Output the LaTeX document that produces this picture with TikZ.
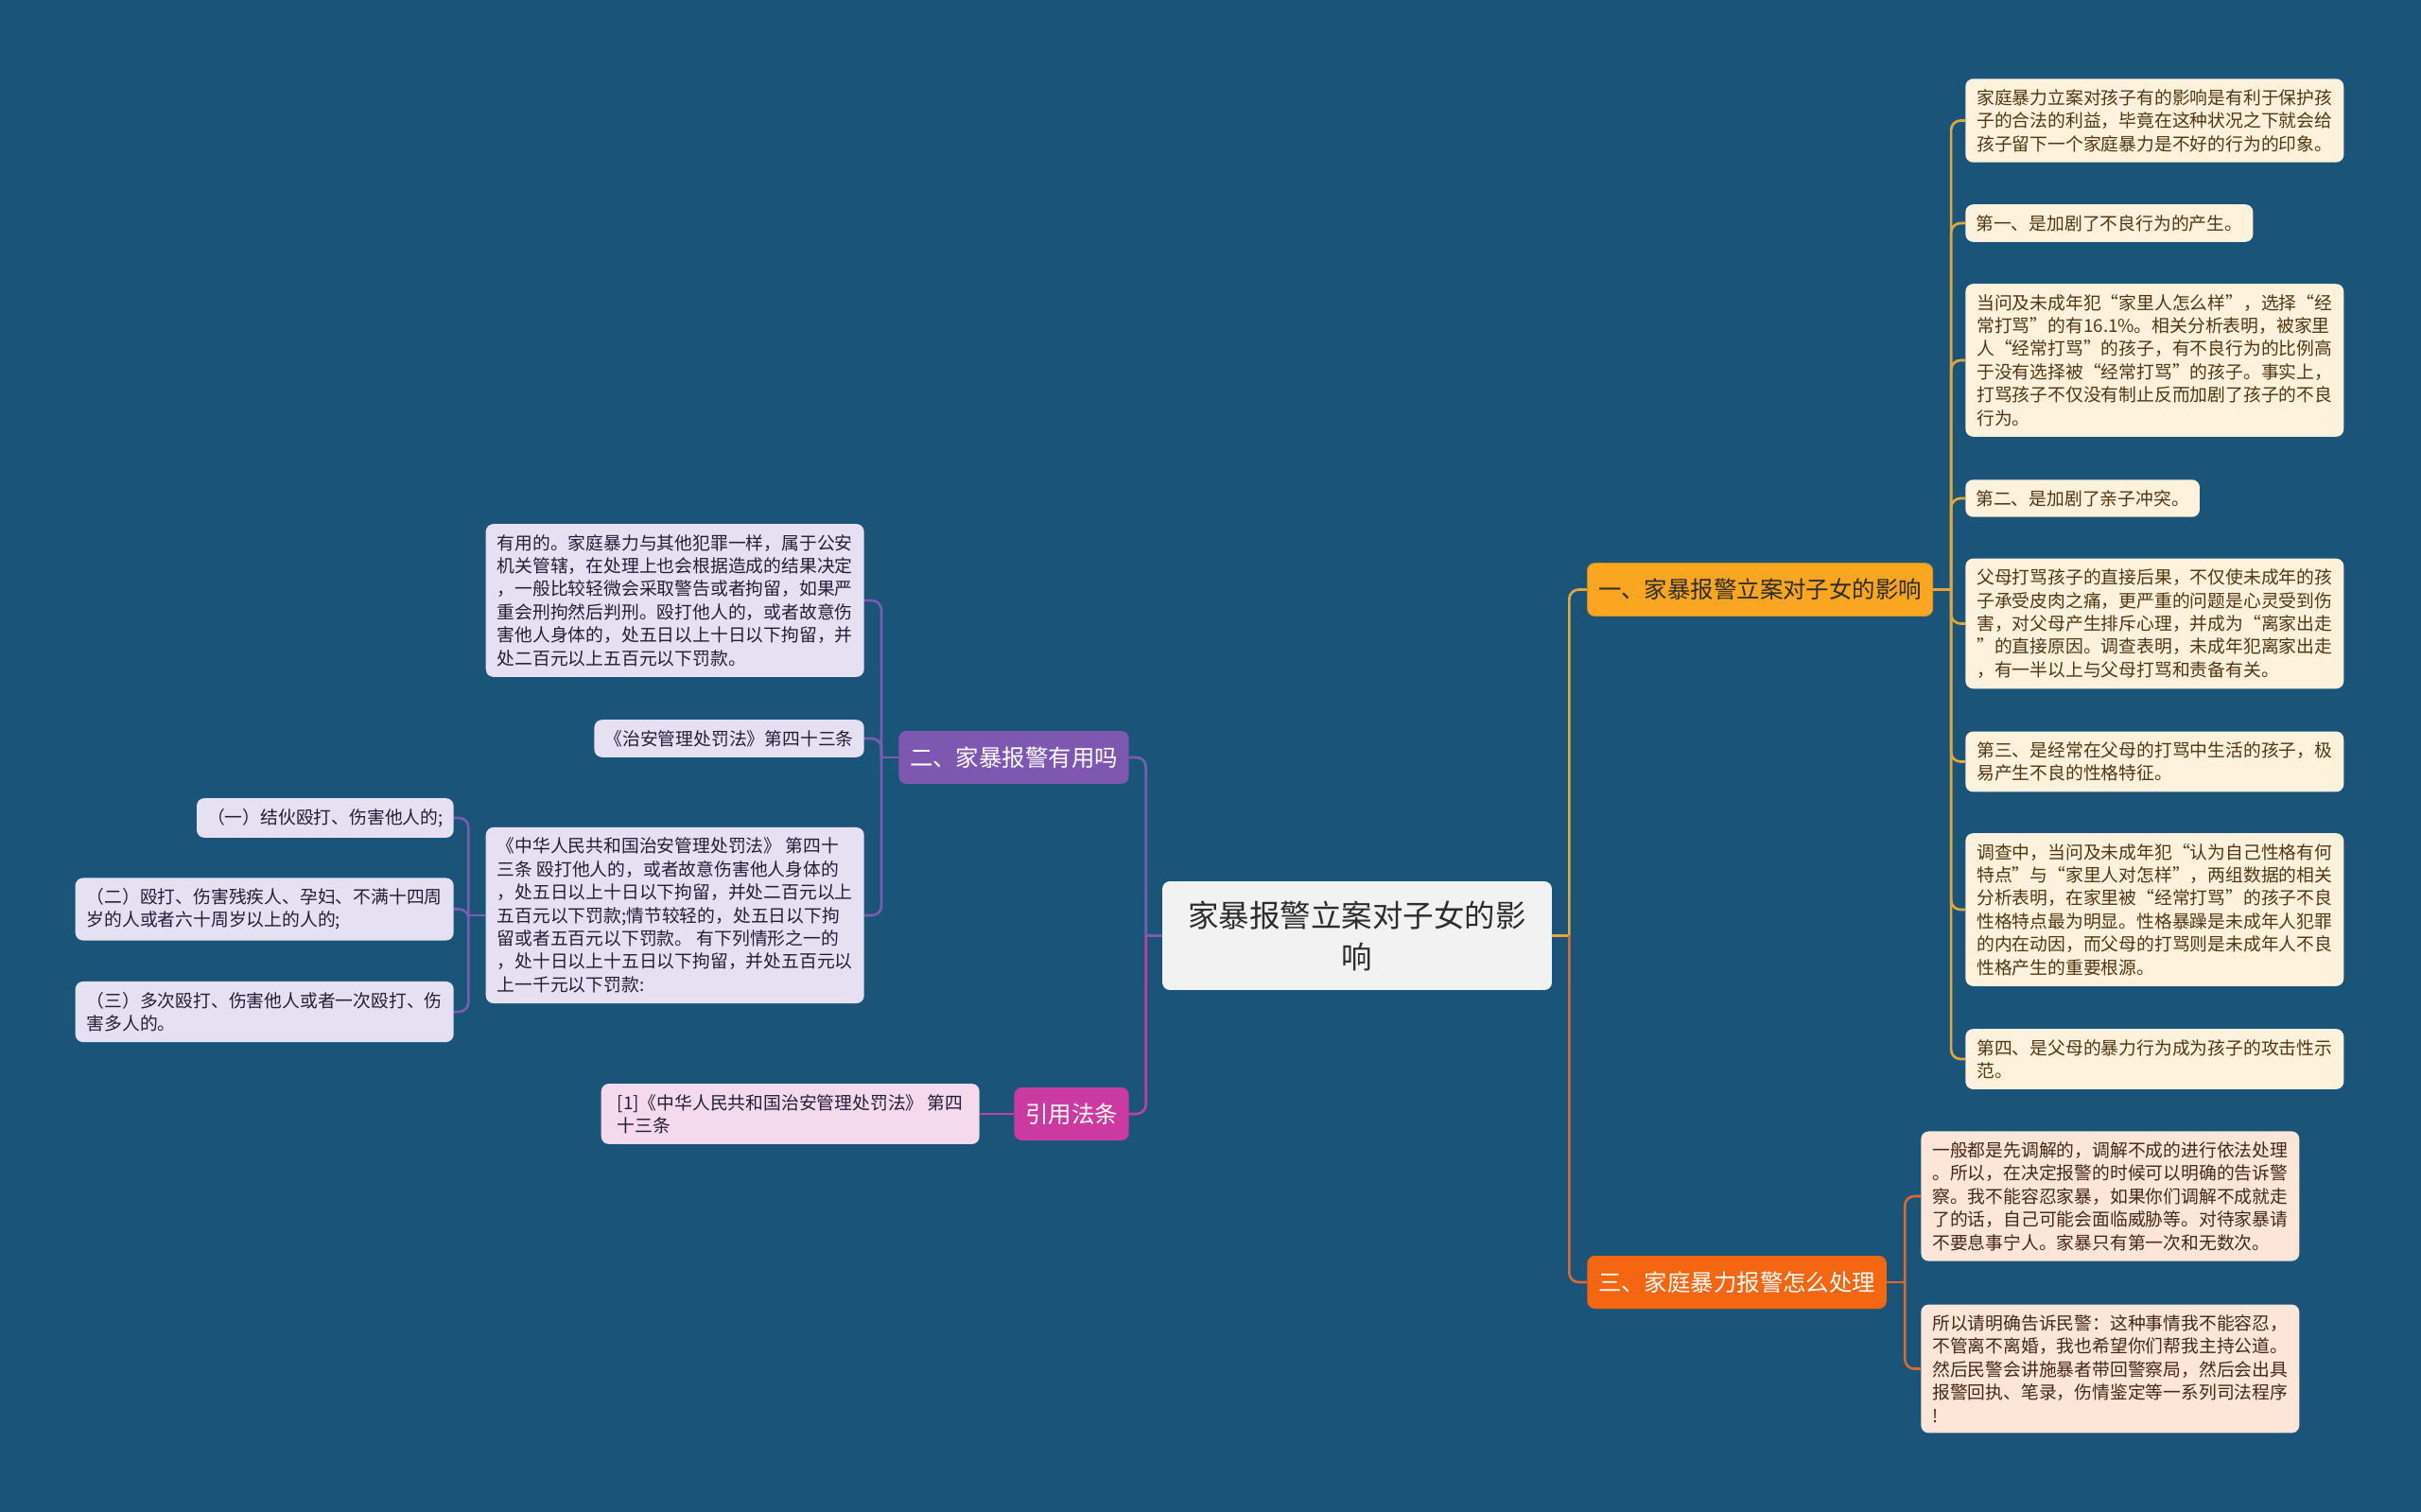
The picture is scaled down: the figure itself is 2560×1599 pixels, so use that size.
\documentclass[tikz,border=0pt]{standalone}
\usepackage{fontspec}
\setmainfont{Noto Sans CJK SC}
\definecolor{bgblue}{RGB}{27,84,121}
\definecolor{rootgray}{RGB}{242,242,242}
\definecolor{inkdark}{RGB}{45,45,45}
\definecolor{effectfill}{RGB}{250,166,33}
\definecolor{effectleaf}{RGB}{255,242,220}
\definecolor{effectink}{RGB}{80,55,20}
\definecolor{effectline}{RGB}{226,167,58}
\definecolor{usefulfill}{RGB}{126,88,176}
\definecolor{usefulleaf}{RGB}{230,225,242}
\definecolor{usefulink}{RGB}{35,30,55}
\definecolor{usefulline}{RGB}{122,92,176}
\definecolor{handlefill}{RGB}{246,102,16}
\definecolor{handleleaf}{RGB}{253,229,216}
\definecolor{handleink}{RGB}{70,40,25}
\definecolor{handleline}{RGB}{216,105,50}
\definecolor{citefill}{RGB}{202,58,160}
\definecolor{citeleaf}{RGB}{245,217,236}
\definecolor{citeline}{RGB}{192,64,160}

\begin{document}
\begin{tikzpicture}[
    x=0.02cm, y=-0.02cm,
    every node/.style={rounded corners=0.16cm, inner xsep=0.22cm, inner ysep=0.22cm, align=left},
    root/.style={fill=rootgray, text=inkdark, minimum width=8.24cm, minimum height=2.3cm, align=center, font=\fontsize{18.5}{25}\selectfont},
    topic/.style={minimum height=1.12cm, inner xsep=0.235cm, font=\fontsize{13.9}{16}\selectfont},
    leaf/.style={font=\fontsize{10.7}{13.9}\selectfont},
    wide/.style={minimum width=8cm},
    link/.style={line width=1.5pt, rounded corners=0.2cm}
  ]
    \fill[bgblue] (0,0) rectangle (2560,1599);

    \node[root] (root) at (1435,989.5) {家暴报警立案对子女的影\\响};

    \node[topic, fill=effectfill, draw=effectfill!85!black, text=inkdark, anchor=west] (effect) at (1678,623.5) {一、家暴报警立案对子女的影响};
    \node[topic, fill=usefulfill, text=white, anchor=east] (useful) at (1194,801) {二、家暴报警有用吗};
    \node[topic, fill=handlefill, text=white, anchor=west] (handle) at (1678,1356) {三、家庭暴力报警怎么处理};
    \node[topic, fill=citefill, text=white, anchor=east] (cite) at (1194,1178) {引用法条};

    \node[leaf, wide, fill=effectleaf, text=effectink, anchor=west] (effA) at (2078,127.5) {家庭暴力立案对孩子有的影响是有利于保护孩\\子的合法的利益，毕竟在这种状况之下就会给\\孩子留下一个家庭暴力是不好的行为的印象。};
    \node[leaf, fill=effectleaf, text=effectink, anchor=west] (effB) at (2078,236) {第一、是加剧了不良行为的产生。};
    \node[leaf, wide, fill=effectleaf, text=effectink, anchor=west] (effC) at (2078,381) {当问及未成年犯“家里人怎么样”，选择“经\\常打骂”的有16.1\%。相关分析表明，被家里\\人“经常打骂”的孩子，有不良行为的比例高\\于没有选择被“经常打骂”的孩子。事实上，\\打骂孩子不仅没有制止反而加剧了孩子的不良\\行为。};
    \node[leaf, fill=effectleaf, text=effectink, anchor=west] (effD) at (2078,527) {第二、是加剧了亲子冲突。};
    \node[leaf, wide, fill=effectleaf, text=effectink, anchor=west] (effE) at (2078,659.5) {父母打骂孩子的直接后果，不仅使未成年的孩\\子承受皮肉之痛，更严重的问题是心灵受到伤\\害，对父母产生排斥心理，并成为“离家出走\\”的直接原因。调查表明，未成年犯离家出走\\，有一半以上与父母打骂和责备有关。};
    \node[leaf, wide, fill=effectleaf, text=effectink, anchor=west] (effF) at (2078,805.5) {第三、是经常在父母的打骂中生活的孩子，极\\易产生不良的性格特征。};
    \node[leaf, wide, fill=effectleaf, text=effectink, anchor=west] (effG) at (2078,962) {调查中，当问及未成年犯“认为自己性格有何\\特点”与“家里人对怎样”，两组数据的相关\\分析表明，在家里被“经常打骂”的孩子不良\\性格特点最为明显。性格暴躁是未成年人犯罪\\的内在动因，而父母的打骂则是未成年人不良\\性格产生的重要根源。};
    \node[leaf, wide, fill=effectleaf, text=effectink, anchor=west] (effH) at (2078,1120) {第四、是父母的暴力行为成为孩子的攻击性示\\范。};

    \node[leaf, wide, fill=handleleaf, text=handleink, anchor=west] (handA) at (2031,1265) {一般都是先调解的，调解不成的进行依法处理\\。所以，在决定报警的时候可以明确的告诉警\\察。我不能容忍家暴，如果你们调解不成就走\\了的话，自己可能会面临威胁等。对待家暴请\\不要息事宁人。家暴只有第一次和无数次。};
    \node[leaf, wide, fill=handleleaf, text=handleink, anchor=west] (handB) at (2031,1447.5) {所以请明确告诉民警：这种事情我不能容忍，\\不管离不离婚，我也希望你们帮我主持公道。\\然后民警会讲施暴者带回警察局，然后会出具\\报警回执、笔录，伤情鉴定等一系列司法程序\\!};

    \node[leaf, wide, fill=usefulleaf, text=usefulink, anchor=east] (useA) at (914,635) {有用的。家庭暴力与其他犯罪一样，属于公安\\机关管辖，在处理上也会根据造成的结果决定\\，一般比较轻微会采取警告或者拘留，如果严\\重会刑拘然后判刑。殴打他人的，或者故意伤\\害他人身体的，处五日以上十日以下拘留，并\\处二百元以上五百元以下罚款。};
    \node[leaf, fill=usefulleaf, text=usefulink, anchor=east] (useB) at (914,781) {《治安管理处罚法》第四十三条};
    \node[leaf, wide, fill=usefulleaf, text=usefulink, anchor=east] (useC) at (914,968) {《中华人民共和国治安管理处罚法》 第四十\\三条 殴打他人的，或者故意伤害他人身体的\\，处五日以上十日以下拘留，并处二百元以上\\五百元以下罚款;情节较轻的，处五日以下拘\\留或者五百元以下罚款。 有下列情形之一的\\，处十日以上十五日以下拘留，并处五百元以\\上一千元以下罚款:};
    \node[leaf, fill=usefulleaf, text=usefulink, anchor=east] (caseA) at (480,865) {（一）结伙殴打、伤害他人的;};
    \node[leaf, wide, fill=usefulleaf, text=usefulink, anchor=east] (caseB) at (480,961.5) {（二）殴打、伤害残疾人、孕妇、不满十四周\\岁的人或者六十周岁以上的人的;};
    \node[leaf, wide, fill=usefulleaf, text=usefulink, anchor=east] (caseC) at (480,1070) {（三）多次殴打、伤害他人或者一次殴打、伤\\害多人的。};

    \node[leaf, wide, fill=citeleaf, text=usefulink, anchor=east] (citeA) at (1036,1178) {[1]《中华人民共和国治安管理处罚法》 第四\\十三条};

    \coordinate (rootR) at ([xshift=0.36cm]root.east);
    \coordinate (rootL) at ([xshift=-0.34cm]root.west);
    \coordinate (effJ) at ([xshift=0.38cm]effect.east);
    \coordinate (handJ) at ([xshift=0.38cm]handle.east);
    \coordinate (useJ) at ([xshift=-0.36cm]useful.west);
    \coordinate (caseJ) at ([xshift=-0.36cm]useC.west);

    \draw[link, effectline] (root.east) -- (rootR);
    \draw[link, effectline] (rootR) |- (effect.west);
    \draw[link, handleline] (rootR) |- (handle.west);
    \draw[link, usefulline] (root.west) -- (rootL);
    \draw[link, usefulline] (rootL) |- (useful.east);
    \draw[link, citeline] (rootL) |- (cite.east);

    \draw[link, effectline] (effect.east) -- (effJ);
    \foreach \n in {effA,effB,effC,effD,effE,effF,effG,effH}
      \draw[link, effectline] (effJ) |- (\n.west);
    \draw[link, handleline] (handle.east) -- (handJ);
    \foreach \n in {handA,handB}
      \draw[link, handleline] (handJ) |- (\n.west);
    \draw[link, usefulline] (useful.west) -- (useJ);
    \foreach \n in {useA,useB,useC}
      \draw[link, usefulline] (useJ) |- (\n.east);
    \draw[link, usefulline] (useC.west) -- (caseJ);
    \foreach \n in {caseA,caseB,caseC}
      \draw[link, usefulline] (caseJ) |- (\n.east);
    \draw[link, citeline] (cite.west) -- (citeA.east);
  \end{tikzpicture}
\end{document}
